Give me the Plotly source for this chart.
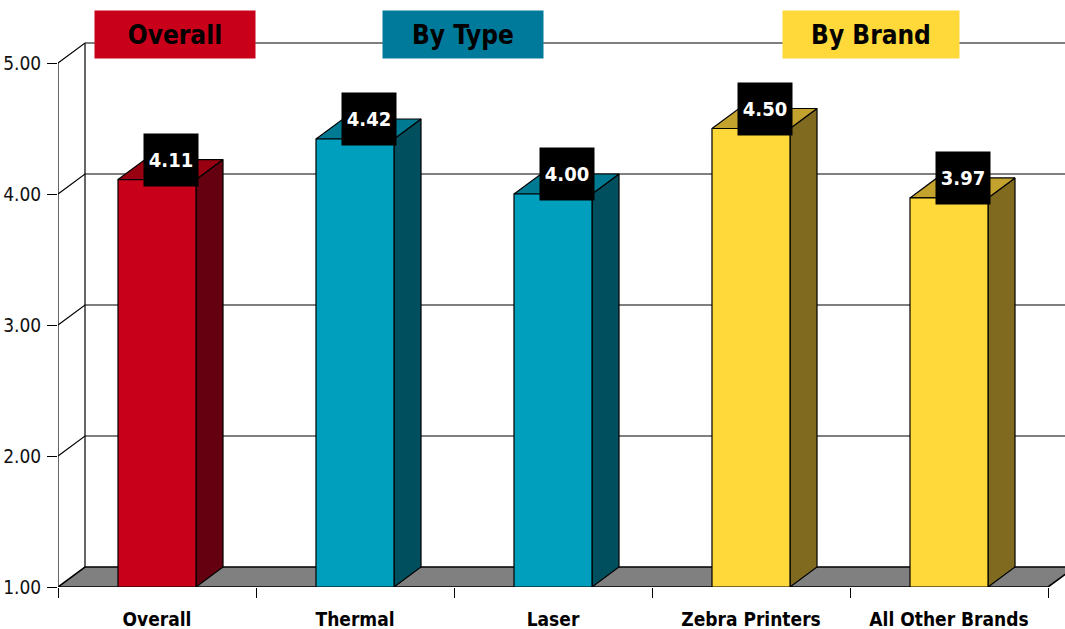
import plotly.graph_objects as go

# ---- data ----
categories = ["Overall", "Thermal", "Laser", "Zebra Printers", "All Other Brands"]
values = [4.11, 4.42, 4.00, 4.50, 3.97]
groups = ["Overall", "By Type", "By Type", "By Brand", "By Brand"]
group_names = ["Overall", "By Type", "By Brand"]
y_ticks = [1, 2, 3, 4, 5]
y_tick_labels = ["1.00", "2.00", "3.00", "4.00", "5.00"]

# ---- styles ----
FONT = "DejaVu Sans Condensed, DejaVu Sans"
front_col = {"Overall": "#C8001A", "By Type": "#009FBD", "By Brand": "#FFD83A"}
top_col = {"Overall": "#980012", "By Type": "#007A92", "By Brand": "#C3A22E"}
side_col = {"Overall": "#640010", "By Type": "#004F5E", "By Brand": "#7F6A20"}
header_col = {"Overall": "#C8001A", "By Type": "#007A9A", "By Brand": "#FFD83A"}
header_pos = {"Overall": (0.116, 160), "By Type": (0.402, 160), "By Brand": (0.807, 176)}

W, H = 1065, 629
ML, MB = 58, 42
PX_X, PX_Y = 198.0, 131.0          # pixels per data unit
XMAX = (W - ML) / PX_X
YMAX = 1 + (H - MB) / PX_Y
DX, DY = 27 / PX_X, 20 / PX_Y       # 3D depth offset in data units
BW = 0.394                          # bar width (category units)
YMIN = 1.0
ncat = len(categories)

fig = go.Figure()


def poly(xs, ys, fill=None, width=1.2, color="black"):
    if fill is not None:
        fig.add_trace(go.Scatter(x=xs + [xs[0]], y=ys + [ys[0]], mode="lines",
                                 fill="toself", fillcolor=fill,
                                 line=dict(color=color, width=width),
                                 hoverinfo="skip", showlegend=False))
    else:
        fig.add_trace(go.Scatter(x=xs, y=ys, mode="lines",
                                 line=dict(color=color, width=width),
                                 hoverinfo="skip", showlegend=False))


# back wall: grid lines, diagonals, back vertical edge
for t in y_ticks[1:]:
    poly([0, DX, XMAX + 1], [t, t + DY, t + DY])
poly([DX, DX], [YMIN + DY, y_ticks[-1] + DY])
# front axis line
poly([0, 0], [YMIN, y_ticks[-1]])

# floor
poly([0, ncat, ncat + DX, DX], [YMIN, YMIN, YMIN + DY, YMIN + DY], fill="#808080", width=1.6)

# bars (front, side, top) computed from values
for i, (v, g) in enumerate(zip(values, groups)):
    c = i + 0.5
    xl, xr = c - BW / 2, c + BW / 2
    poly([xr, xr + DX, xr + DX, xr], [YMIN, YMIN + DY, v + DY, v], fill=side_col[g])
    poly([xl, xr, xr + DX, xl + DX], [v, v, v + DY, v + DY], fill=top_col[g])
    poly([xl, xr, xr, xl], [YMIN, YMIN, v, v], fill=front_col[g])

# value labels
for i, v in enumerate(values):
    fig.add_annotation(x=i + 0.5 + DX / 2, y=v + 20 / PX_Y, xref="x", yref="y",
                       text=f"{v:.2f}", showarrow=False,
                       font=dict(family=FONT, size=20, color="white", weight="bold"),
                       bgcolor="black", width=54, height=52, borderpad=0,
                       valign="middle",
                       xanchor="center", yanchor="middle")

# group headers
for gname in group_names:
    px_, w_ = header_pos[gname]
    fig.add_annotation(x=px_, y=(H - MB - 34.5) / (H - MB), xref="paper", yref="paper",
                       text=gname, showarrow=False,
                       font=dict(family=FONT, size=26, color="black", weight="bold"),
                       bgcolor=header_col[gname], width=w_, height=47, borderpad=0,
                       xanchor="center", yanchor="middle")

fig.update_layout(
    width=W, height=H,
    margin=dict(l=ML, r=0, t=0, b=MB, pad=0),
    paper_bgcolor="white", plot_bgcolor="white",
    showlegend=False,
    xaxis=dict(range=[0, XMAX], showgrid=False, zeroline=False, showline=False,
               tickmode="array", tickvals=[i + 0.5 for i in range(ncat)], ticktext=categories,
               ticks="", ticklen=0,
               tickfont=dict(family=FONT, size=19, color="black", weight="bold"),
               ticklabelstandoff=19,
               minor=dict(tickmode="array", tickvals=list(range(ncat + 1)), ticks="outside",
                          ticklen=10, tickcolor="black", tickwidth=1.2, showgrid=False)),
    yaxis=dict(range=[YMIN, YMAX], showgrid=False, zeroline=False, showline=False,
               tickmode="array", tickvals=y_ticks, ticktext=y_tick_labels,
               ticks="outside", ticklen=10, tickcolor="black", tickwidth=1.2,
               tickfont=dict(family=FONT, size=19, color="#111"),
               ticklabelstandoff=2),
)

fig.write_html("out.html")
